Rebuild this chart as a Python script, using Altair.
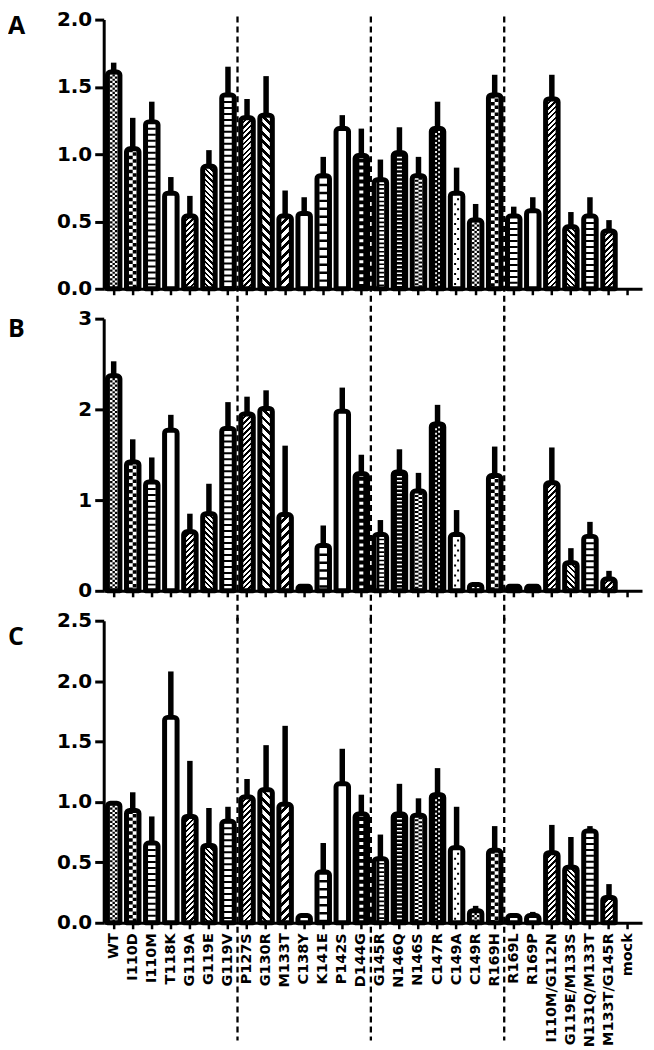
import altair as alt
import pandas as pd

# ---------------- data ----------------
categories = ["WT", "I110D", "I110M", "T118K", "G119A", "G119E", "G119V", "P127S",
              "G130R", "M133T", "C138Y", "K141E", "P142S", "D144G", "G145R", "N146Q",
              "N146S", "C147R", "C149A", "C149R", "R169H", "R169L", "R169P",
              "I110M/G112N", "G119E/M133S", "N131Q/M133T", "M133T/G145R", "mock"]

a_mean = [1.61, 1.04, 1.24, 0.71, 0.54, 0.91, 1.44, 1.27, 1.29, 0.54, 0.56, 0.84,
          1.19, 0.99, 0.81, 1.01, 0.84, 1.19, 0.71, 0.51, 1.44, 0.54, 0.58, 1.41,
          0.46, 0.54, 0.43, 0.0]
a_err = [0.07, 0.23, 0.15, 0.12, 0.15, 0.12, 0.21, 0.14, 0.29, 0.19, 0.12, 0.14,
         0.10, 0.20, 0.15, 0.19, 0.14, 0.20, 0.19, 0.12, 0.15, 0.07, 0.10, 0.18,
         0.11, 0.14, 0.08, 0.0]

b_mean = [2.37, 1.42, 1.20, 1.77, 0.65, 0.85, 1.79, 1.95, 2.01, 0.84, 0.05, 0.50,
          1.98, 1.29, 0.62, 1.31, 1.10, 1.84, 0.62, 0.07, 1.27, 0.05, 0.05, 1.19,
          0.31, 0.60, 0.13, 0.0]
b_err = [0.16, 0.25, 0.27, 0.17, 0.20, 0.33, 0.29, 0.19, 0.20, 0.76, 0.0, 0.22,
         0.26, 0.21, 0.16, 0.25, 0.20, 0.21, 0.27, 0.02, 0.32, 0.0, 0.0, 0.39,
         0.16, 0.16, 0.09, 0.0]

c_mean = [0.99, 0.93, 0.66, 1.70, 0.88, 0.64, 0.84, 1.04, 1.10, 0.98, 0.06, 0.42,
          1.15, 0.90, 0.53, 0.90, 0.89, 1.06, 0.62, 0.10, 0.60, 0.06, 0.06, 0.58,
          0.46, 0.76, 0.21, 0.0]
c_err = [0.0, 0.15, 0.22, 0.38, 0.46, 0.31, 0.12, 0.15, 0.37, 0.65, 0.0, 0.24,
         0.29, 0.16, 0.20, 0.25, 0.14, 0.22, 0.34, 0.04, 0.20, 0.02, 0.03, 0.23,
         0.25, 0.04, 0.11, 0.0]

separators_after = ["G119V", "D144G", "R169H"]

# ---------------- styles ----------------
pattern_of = {
    "WT": "finecheck", "I110D": "check", "I110M": "ladder", "T118K": "white",
    "G119A": "fwd", "G119E": "back", "G119V": "ladder", "P127S": "fwd",
    "G130R": "back_coarse", "M133T": "fwd_coarse", "C138Y": "white",
    "K141E": "ladder_big", "P142S": "white", "D144G": "diamond", "G145R": "ebracket",
    "N146Q": "hdense", "N146S": "chevron", "C147R": "dotcol", "C149A": "dots",
    "C149R": "finecheck", "R169H": "check", "R169L": "ladder", "R169P": "white",
    "I110M/G112N": "fwd", "G119E/M133S": "back", "N131Q/M133T": "ladder",
    "M133T/G145R": "fwd", "mock": "white",
}

patterns = {
    "finecheck": dict(bg="white", rules=[(-2.4, 2.4, "black", (2.2, 2.2), 0),
                                          (0.0, 2.4, "black", (2.2, 2.2), 2.2),
                                          (2.4, 2.4, "black", (2.2, 2.2), 0)]),
    "check": dict(bg="white", rules=[(-1.9, 3.8, "black", (3.5, 3.5), 0),
                                      (1.9, 3.8, "black", (3.5, 3.5), 3.5)]),
    "ladder": dict(bg="white", rules=[(0.0, 8, "black", (2, 4), 0)]),
    "ladder_big": dict(bg="white", rules=[(0.0, 8, "black", (2.5, 5.5), 0)]),
    "white": dict(bg="white", rules=[]),
    "diamond": dict(bg="black", rules=[(0.0, 4, "white", (3, 4), 0)]),
    "ebracket": dict(bg="white", rules=[(0.6, 6, "black", (1.6, 2.6), 0),
                                         (-2.3, 2.5, "black", None, 0)]),
    "hdense": dict(bg="black", rules=[(0.0, 5, "white", (1.5, 2.5), 0)]),
    "chevron": dict(bg="white", rules=[(-1.8, 3.6, "black", (2, 2), 0),
                                        (1.8, 3.6, "black", (2, 2), 2)]),
    "dotcol": dict(bg="black", rules=[(-1.5, 1.8, "white", (2, 2.5), 0),
                                       (1.5, 1.8, "white", (2, 2.5), 2.2)]),
    "dots": dict(bg="white", rules=[(-1.5, 2, "black", (2, 8), 0),
                                     (1.5, 2, "black", (2, 8), 5)]),
    "fwd": dict(bg="white", grad=("fwd", 5.5, 0.45)),
    "back": dict(bg="white", grad=("back", 5.5, 0.45)),
    "fwd_coarse": dict(bg="white", grad=("fwd", 8.5, 0.45)),
    "back_coarse": dict(bg="white", grad=("back", 8.5, 0.45)),
}

WIDTH = 540
N = len(categories)
P_INNER, P_OUTER, ALIGN = 0.345, 0.301, 0.326
STEP = WIDTH / (N - P_INNER + 2 * P_OUTER)
BANDW = STEP * (1 - P_INNER)
SPACING = 30

FONT = "DejaVu Sans"


def stripe_gradient(direction, period, frac, w, h):
    total = w + h
    L = (w * w + h * h) / total
    if direction == "fwd":
        x1, y1, x2, y2 = 0.0, 0.0, w / L, h / L
    else:
        x1, y1, x2, y2 = 1.0, 0.0, 1.0 - w / L, h / L
    pt = period / total
    stops = []
    k = 0
    while k * pt < 1:
        s = k * pt
        e = min(1.0, s + frac * pt)
        stops += [(s, "white"), (s, "black"), (e, "black"), (e, "white")]
        k += 1
    cleaned = []
    last = 0.0
    for off, col in stops:
        off = round(max(last, min(1.0, off)), 5)
        cleaned.append(alt.GradientStop(offset=off, color=col))
        last = off
    return alt.LinearGradient(gradient="linear", stops=cleaned,
                              x1=x1, y1=y1, x2=x2, y2=y2)


def panel(letter, mean, err, ymax, ticks, fmt, height, gap_below, show_labels,
          letter_y):
    df = pd.DataFrame({
        "cat": categories,
        "v": mean,
        "top": [m + e for m, e in zip(mean, err)],
        "zero": [0.0] * N,
        "bg": [patterns[pattern_of[c]]["bg"] for c in categories],
    })
    xscale = alt.Scale(domain=categories, paddingInner=P_INNER,
                       paddingOuter=P_OUTER, align=ALIGN)
    xaxis = alt.Axis(title=None, labels=show_labels, labelAngle=-90,
                     labelFontSize=14.5, labelFont=FONT, labelFontWeight="bold",
                     labelColor="black", tickSize=6, tickWidth=2.5,
                     tickColor="black", domainWidth=3, domainColor="black",
                     labelPadding=4, grid=False, labelOverlap=False)
    yscale = alt.Scale(domain=[0, ymax], nice=False, zero=True)
    yaxis = alt.Axis(title=None, values=ticks, format=fmt, labelFontSize=20,
                     labelFont=FONT, labelFontWeight="bold", labelColor="black",
                     tickSize=9, tickWidth=3, tickColor="black", domainWidth=3,
                     domainColor="black", labelPadding=3, grid=False)

    X = alt.X("cat:N", sort=categories, scale=xscale, axis=xaxis)

    def Y(field):
        return alt.Y(field, type="quantitative", scale=yscale, axis=yaxis)

    base = alt.Chart(df)
    nonzero = base.transform_filter(alt.datum.v > 0)

    layers = []
    # dashed separators
    layers.append(
        base.transform_filter(alt.FieldOneOfPredicate(field="cat", oneOf=separators_after))
        .mark_rule(color="black", strokeWidth=2.3, strokeDash=[6, 4], xOffset=STEP / 2)
        .encode(x=X, y=alt.value(-3), y2=alt.value(height + gap_below))
    )
    # background fill
    layers.append(
        nonzero.mark_bar(strokeWidth=0, cornerRadiusTopLeft=3, cornerRadiusTopRight=3)
        .encode(x=X, y=Y("v"), y2=alt.Y2("zero"), fill=alt.Fill("bg:N", scale=None))
    )
    # diagonal stripe fills (gradient per bar, sized from the bar)
    for c, m in zip(categories, mean):
        spec = patterns[pattern_of[c]]
        if "grad" in spec and m > 0:
            direction, period, frac = spec["grad"]
            h = m / ymax * height
            g = stripe_gradient(direction, period, frac, BANDW, h)
            layers.append(
                base.transform_filter(alt.FieldEqualPredicate(field="cat", equal=c))
                .mark_bar(fill=g, strokeWidth=0)
                .encode(x=X, y=Y("v"), y2=alt.Y2("zero"))
            )
    # rule-based textures
    groups = {}
    for c, m in zip(categories, mean):
        if m <= 0:
            continue
        for r in patterns[pattern_of[c]].get("rules", []):
            groups.setdefault(r, []).append(c)
    for (xoff, w, col, dash, off), cats in groups.items():
        kw = dict(color=col, strokeWidth=w, xOffset=xoff)
        if dash is not None:
            kw["strokeDash"] = list(dash)
            kw["strokeDashOffset"] = off
        layers.append(
            base.transform_filter(alt.FieldOneOfPredicate(field="cat", oneOf=cats))
            .mark_rule(**kw)
            .encode(x=X, y=Y("v"), y2=alt.Y2("zero"))
        )
    # outline
    layers.append(
        nonzero.mark_bar(fillOpacity=0, stroke="black", strokeWidth=5,
                         strokeJoin="round", cornerRadiusTopLeft=3,
                         cornerRadiusTopRight=3)
        .encode(x=X, y=Y("v"), y2=alt.Y2("zero"))
    )
    # error bars (upper only)
    layers.append(
        base.transform_filter(alt.datum.top > alt.datum.v)
        .mark_rule(color="black", strokeWidth=5.5)
        .encode(x=X, y=Y("v"), y2=alt.Y2("top"))
    )
    # panel letter
    layers.append(
        alt.Chart(pd.DataFrame({"t": [letter]}))
        .mark_text(font="Open Sans", fontWeight="bold", fontSize=25, align="left",
                   baseline="alphabetic", color="black")
        .encode(text="t:N", x=alt.value(-96), y=alt.value(letter_y))
    )
    return alt.layer(*layers).properties(width=WIDTH, height=height)


pa = panel("A", a_mean, a_err, 2.0, [0, 0.5, 1.0, 1.5, 2.0], ".1f", 270, SPACING, False, 14)
pb = panel("B", b_mean, b_err, 3.0, [0, 1, 2, 3], "d", 273, SPACING, False, 18)
pc = panel("C", c_mean, c_err, 2.5, [0, 0.5, 1.0, 1.5, 2.0, 2.5], ".1f", 303, 118, True, 24)

chart = alt.vconcat(pa, pb, pc, spacing=SPACING, bounds="flush").properties(
    padding={"left": 0, "top": 0, "right": 4, "bottom": 0}
).configure_view(stroke=None)

chart.save("out.html", embed_options={"renderer": "svg", "actions": False})
